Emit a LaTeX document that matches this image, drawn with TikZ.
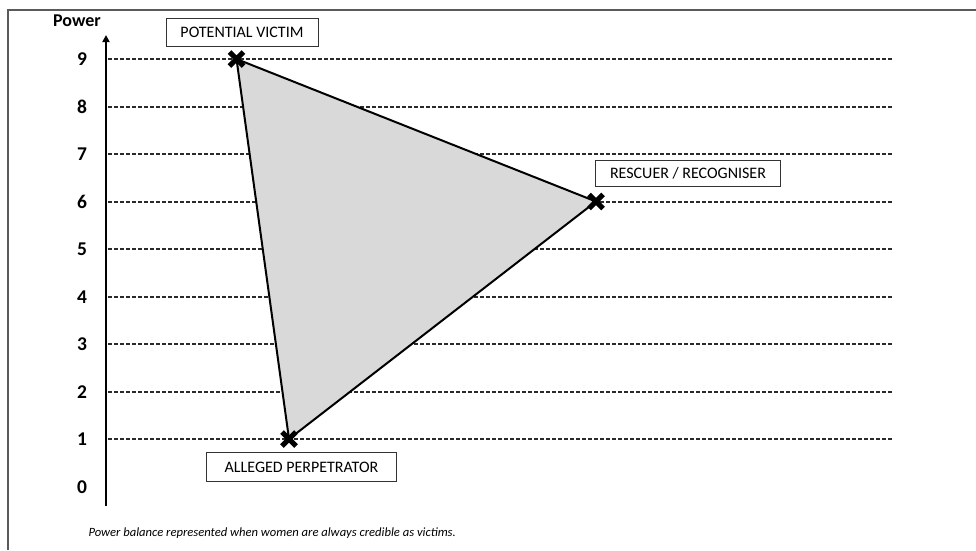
\documentclass[tikz,border=0pt]{standalone}
\usepackage{fontspec}
\setmainfont{Carlito}
\usetikzlibrary{shapes.misc,arrows.meta}
\definecolor{frameGray}{HTML}{5A5A5A}
\definecolor{fillGray}{HTML}{D9D9D9}
\definecolor{gridGray}{HTML}{2A2A2A}
\begin{document}
\begin{tikzpicture}[x=1pt,y=-1pt,
  labelbox/.style={draw=black!80,line width=0.9pt,fill=white,inner sep=0pt,
    font=\fontsize{16}{18}\selectfont,anchor=center},
  tick/.style={font=\bfseries\fontsize{19.5}{21}\selectfont,anchor=center},
  gridline/.style={gridGray,line width=1.1pt,dash pattern=on 4pt off 2pt},
  crossmark/.style={cross out,draw=black,line width=5pt,minimum size=9pt,inner sep=0pt}]
\useasboundingbox (0,0) rectangle (976,550);
% outer frame (top and left edges only)
\draw[frameGray,line width=1.5pt] (8,550) -- (8,10) -- (976,10);
% horizontal guide lines and level labels
\foreach \k in {0,...,9}{
  \pgfmathsetmacro{\yy}{round(486.5-47.5*\k)}
  \node[tick] (l\k) at (82,\yy) {\k};
}
\foreach \k in {1,...,9}{
  \pgfmathsetmacro{\yy}{round(486.5-47.5*\k)}
  \draw[gridline] (108,\yy) -- (892,\yy);
}
% vertical axis
\coordinate (axbot) at (106,506);
\coordinate (axtop) at (106,35);
\draw[line width=2.2pt,-{Triangle[length=7pt,width=7pt]}] (axbot) -- (axtop);
\node[font=\bfseries\fontsize{18}{20}\selectfont] (power) at (77,21) {Power};
% the three actors
\coordinate (v) at (236.5,59);
\coordinate (r) at (596,201.5);
\coordinate (p) at (289,439);
\filldraw[fill=fillGray,draw=black,line width=2pt,line join=round] (v) -- (r) -- (p) -- cycle;
\node[crossmark] (vx) at (v) {};
\node[crossmark] (rx) at (r) {};
\node[crossmark] (px) at (p) {};
% labels
\node[labelbox,minimum width=152pt,minimum height=28pt] (vl) at (242,32.5) {POTENTIAL VICTIM};
\node[labelbox,minimum width=185pt,minimum height=26pt] (rl) at (688,173) {RESCUER / RECOGNISER};
\node[labelbox,minimum width=190pt,minimum height=29pt] (pl) at (301.5,467) {ALLEGED PERPETRATOR};
% caption
\node[font=\itshape\fontsize{12.6}{15}\selectfont,anchor=west] (cap) at (85,533) {Power balance represented when women are always credible as victims.};
\end{tikzpicture}
\end{document}
